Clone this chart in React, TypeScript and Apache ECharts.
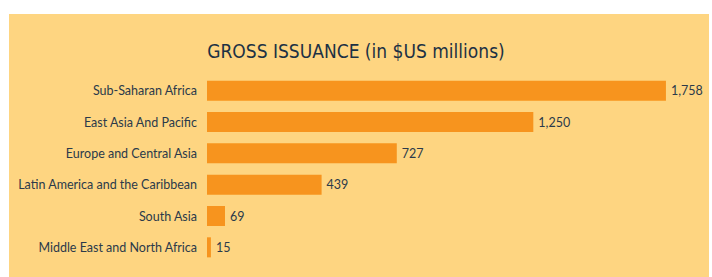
import React, { useEffect, useRef } from "react";
import * as echarts from "echarts";

const categories = [
  "Sub-Saharan Africa",
  "East Asia And Pacific",
  "Europe and Central Asia",
  "Latin America and the Caribbean",
  "South Asia",
  "Middle East and North Africa",
];
const values = [1758, 1250, 727, 439, 69, 15];
const titleText = "GROSS ISSUANCE (in $US millions)";

const BG = "#FED581";
const BAR = "#F7941E";
const TEXT = "#2B3A4A";

export default function App() {
  const ref = useRef<HTMLDivElement>(null);
  useEffect(() => {
    document.body.style.margin = "0";
    const chart = echarts.init(ref.current!, null, { renderer: "svg" });
    chart.setOption({
      animation: false,
      backgroundColor: "#ffffff",
      graphic: [
        {
          type: "rect",
          z: -10,
          silent: true,
          shape: { x: 9, y: 14, width: 700, height: 270 },
          style: { fill: BG },
        },
      ],
      title: {
        text: titleText,
        left: "center",
        top: 36,
        textStyle: {
          fontFamily: "'DejaVu Sans Condensed', sans-serif",
          fontSize: 19,
          fontWeight: "normal",
          color: "#1C3144",
        },
      },
      grid: { left: 207, right: 9, top: 75, height: 188, containLabel: false },
      xAxis: {
        type: "value",
        min: 0,
        max: 1900,
        show: false,
      },
      yAxis: {
        type: "category",
        data: categories,
        inverse: true,
        axisLine: { show: false },
        axisTick: { show: false },
        splitLine: { show: false },
        axisLabel: {
          margin: 10,
          color: TEXT,
          fontSize: 12.5,
          fontFamily: "Lato, sans-serif",
        },
      },
      series: [
        {
          type: "bar",
          data: values,
          barCategoryGap: "36%",
          itemStyle: { color: BAR },
          label: {
            show: true,
            position: "right",
            distance: 5,
            color: TEXT,
            fontSize: 12.5,
            fontFamily: "Lato, sans-serif",
            formatter: (p: any) => Number(p.value).toLocaleString("en-US"),
          },
        },
      ],
    });
    return () => chart.dispose();
  }, []);
  return (
    <div
      ref={ref}
      style={{ position: "fixed", left: 0, top: 0, width: 712, height: 277 }}
    />
  );
}
